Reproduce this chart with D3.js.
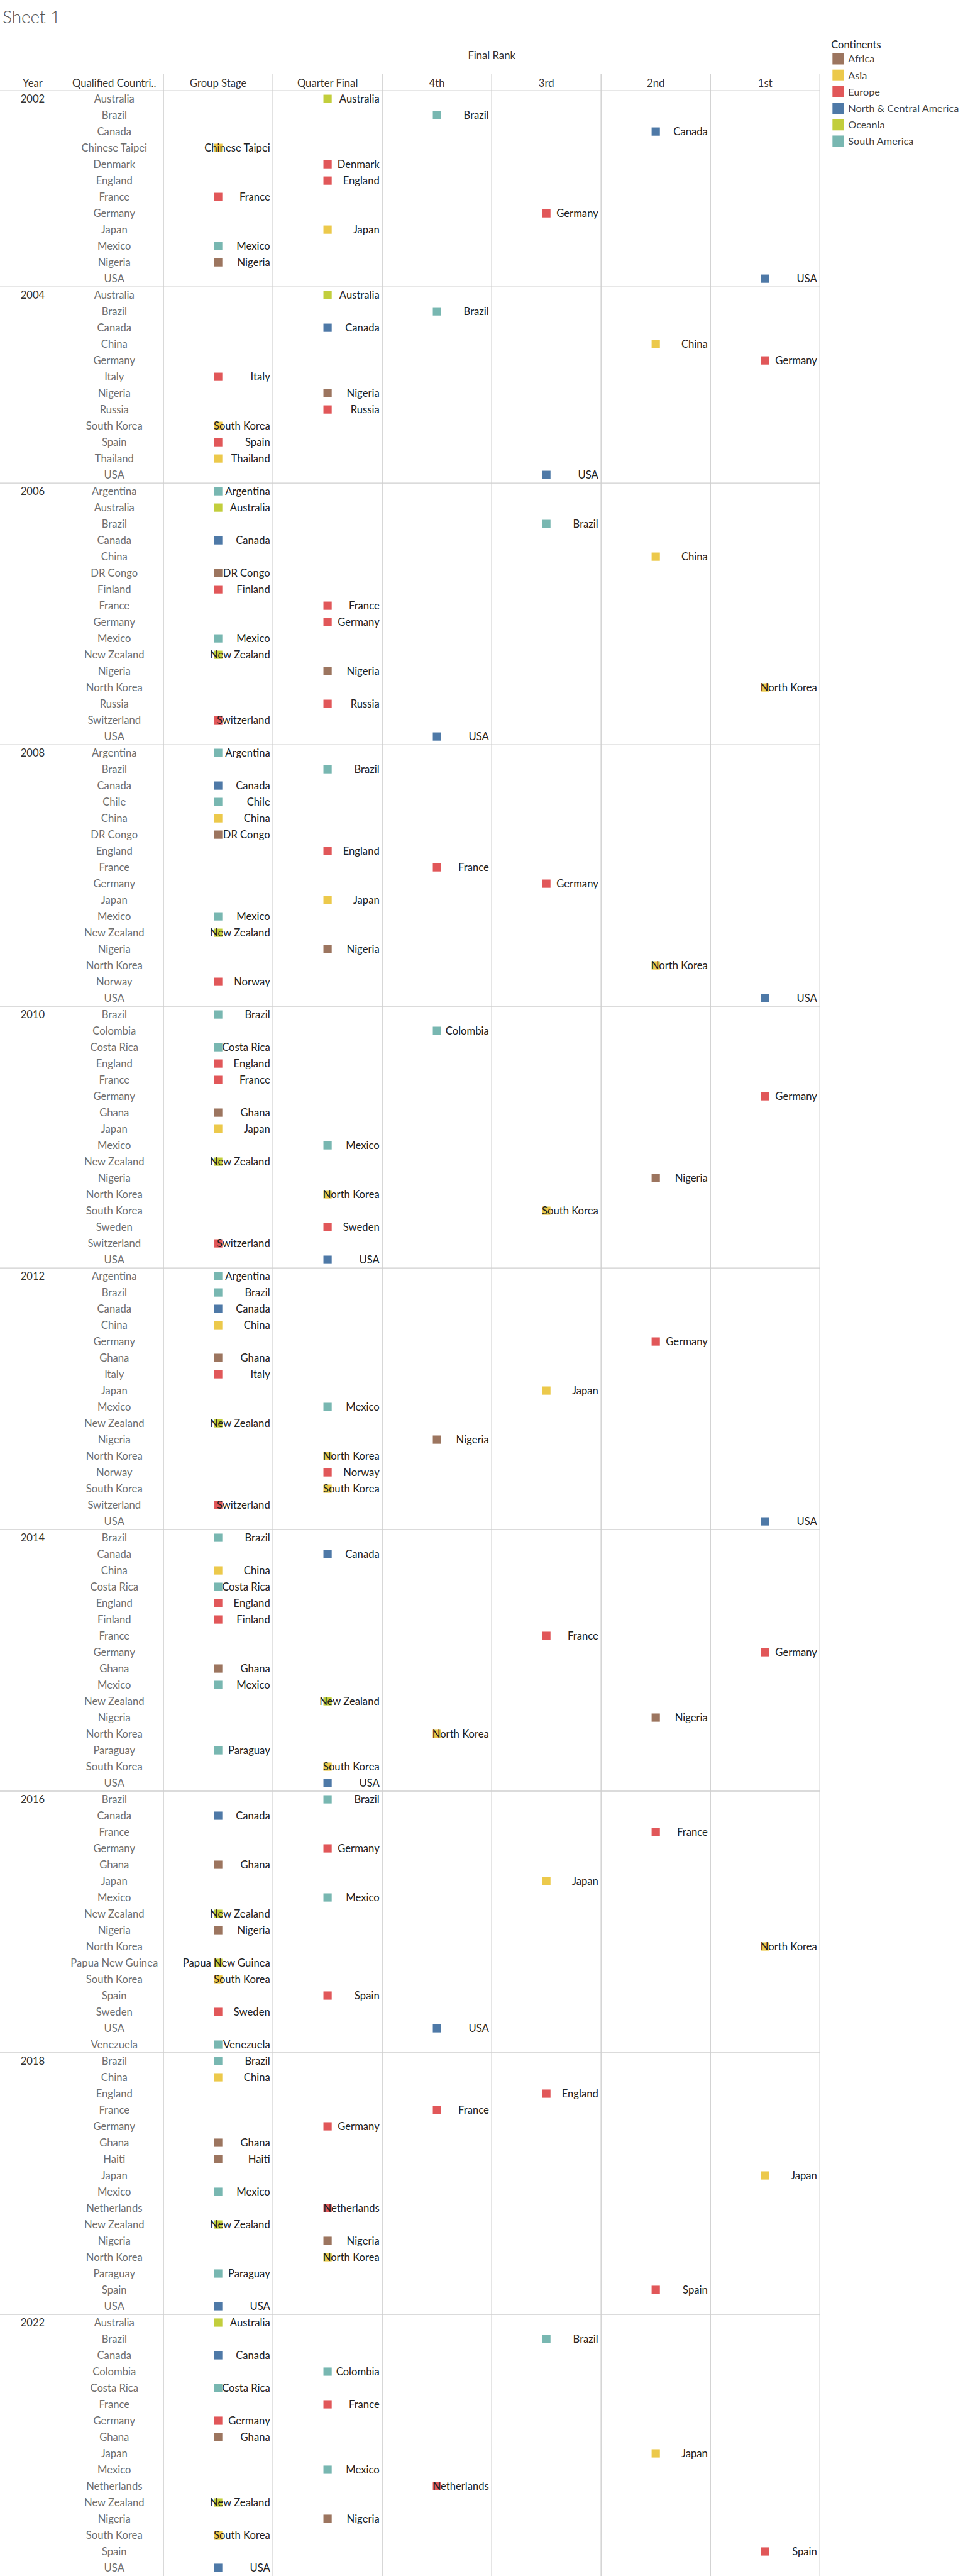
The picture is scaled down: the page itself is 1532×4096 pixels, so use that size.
<!DOCTYPE html>
<html>
<head>
<meta charset="utf-8">
<script src="https://cdn.jsdelivr.net/npm/d3@7"></script>
<style>
  html, body { margin: 0; padding: 0; background: #fff; }
  svg { display: block; }
  text { font-family: Lato, "Open Sans", sans-serif; }
</style>
</head>
<body>
<svg id="chart" width="1532" height="4096"></svg>
<script>
// ---------- data ----------
const stages = ["Group Stage", "Quarter Final", "4th", "3rd", "2nd", "1st"];
const stageCodes = ["GS", "QF", "4th", "3rd", "2nd", "1st"];
const continents = ["Africa", "Asia", "Europe", "North & Central America", "Oceania", "South America"];
const continentColors = ["#9c755f", "#ecc94b", "#e15759", "#4e79a7", "#c2ce3c", "#78b7b1"];

const africa = ["Nigeria", "DR Congo", "Ghana", "Haiti"];
const asia = ["Chinese Taipei", "Japan", "China", "South Korea", "Thailand", "North Korea"];
const europe = ["Denmark", "England", "France", "Germany", "Italy", "Russia", "Spain", "Finland",
  "Switzerland", "Norway", "Sweden", "Netherlands"];
const northCentralAmerica = ["Canada", "USA"];
const oceania = ["Australia", "New Zealand", "Papua New Guinea"];
const southAmerica = ["Brazil", "Mexico", "Argentina", "Chile", "Colombia", "Costa Rica", "Paraguay", "Venezuela"];

const years = ["2002", "2004", "2006", "2008", "2010", "2012", "2014", "2016", "2018", "2022"];

const results2002 = [["Australia","QF"],["Brazil","4th"],["Canada","2nd"],["Chinese Taipei","GS"],["Denmark","QF"],
  ["England","QF"],["France","GS"],["Germany","3rd"],["Japan","QF"],["Mexico","GS"],["Nigeria","GS"],["USA","1st"]];
const results2004 = [["Australia","QF"],["Brazil","4th"],["Canada","QF"],["China","2nd"],["Germany","1st"],
  ["Italy","GS"],["Nigeria","QF"],["Russia","QF"],["South Korea","GS"],["Spain","GS"],["Thailand","GS"],["USA","3rd"]];
const results2006 = [["Argentina","GS"],["Australia","GS"],["Brazil","3rd"],["Canada","GS"],["China","2nd"],
  ["DR Congo","GS"],["Finland","GS"],["France","QF"],["Germany","QF"],["Mexico","GS"],["New Zealand","GS"],
  ["Nigeria","QF"],["North Korea","1st"],["Russia","QF"],["Switzerland","GS"],["USA","4th"]];
const results2008 = [["Argentina","GS"],["Brazil","QF"],["Canada","GS"],["Chile","GS"],["China","GS"],
  ["DR Congo","GS"],["England","QF"],["France","4th"],["Germany","3rd"],["Japan","QF"],["Mexico","GS"],
  ["New Zealand","GS"],["Nigeria","QF"],["North Korea","2nd"],["Norway","GS"],["USA","1st"]];
const results2010 = [["Brazil","GS"],["Colombia","4th"],["Costa Rica","GS"],["England","GS"],["France","GS"],
  ["Germany","1st"],["Ghana","GS"],["Japan","GS"],["Mexico","QF"],["New Zealand","GS"],["Nigeria","2nd"],
  ["North Korea","QF"],["South Korea","3rd"],["Sweden","QF"],["Switzerland","GS"],["USA","QF"]];
const results2012 = [["Argentina","GS"],["Brazil","GS"],["Canada","GS"],["China","GS"],["Germany","2nd"],
  ["Ghana","GS"],["Italy","GS"],["Japan","3rd"],["Mexico","QF"],["New Zealand","GS"],["Nigeria","4th"],
  ["North Korea","QF"],["Norway","QF"],["South Korea","QF"],["Switzerland","GS"],["USA","1st"]];
const results2014 = [["Brazil","GS"],["Canada","QF"],["China","GS"],["Costa Rica","GS"],["England","GS"],
  ["Finland","GS"],["France","3rd"],["Germany","1st"],["Ghana","GS"],["Mexico","GS"],["New Zealand","QF"],
  ["Nigeria","2nd"],["North Korea","4th"],["Paraguay","GS"],["South Korea","QF"],["USA","QF"]];
const results2016 = [["Brazil","QF"],["Canada","GS"],["France","2nd"],["Germany","QF"],["Ghana","GS"],
  ["Japan","3rd"],["Mexico","QF"],["New Zealand","GS"],["Nigeria","GS"],["North Korea","1st"],
  ["Papua New Guinea","GS"],["South Korea","GS"],["Spain","QF"],["Sweden","GS"],["USA","4th"],["Venezuela","GS"]];
const results2018 = [["Brazil","GS"],["China","GS"],["England","3rd"],["France","4th"],["Germany","QF"],
  ["Ghana","GS"],["Haiti","GS"],["Japan","1st"],["Mexico","GS"],["Netherlands","QF"],["New Zealand","GS"],
  ["Nigeria","QF"],["North Korea","QF"],["Paraguay","GS"],["Spain","2nd"],["USA","GS"]];
const results2022 = [["Australia","GS"],["Brazil","3rd"],["Canada","GS"],["Colombia","QF"],["Costa Rica","GS"],
  ["France","QF"],["Germany","GS"],["Ghana","GS"],["Japan","2nd"],["Mexico","QF"],["Netherlands","4th"],
  ["New Zealand","GS"],["Nigeria","QF"],["South Korea","GS"],["Spain","1st"],["USA","GS"]];

const resultsByYear = [results2002, results2004, results2006, results2008, results2010,
  results2012, results2014, results2016, results2018, results2022];

// ---------- build rows ----------
const continentOf = new Map();
[[africa,"Africa"],[asia,"Asia"],[europe,"Europe"],[northCentralAmerica,"North & Central America"],
 [oceania,"Oceania"],[southAmerica,"South America"]].forEach(([list, c]) => list.forEach(n => continentOf.set(n, c)));

const rows = [];
years.forEach((yr, yi) => {
  resultsByYear[yi].forEach(([country, code], i) => {
    rows.push({
      key: yr + "|" + country,
      year: yr,
      first: i === 0,
      country,
      stage: stages[stageCodes.indexOf(code)],
      continent: continentOf.get(country)
    });
  });
});

// ---------- layout ----------
const K = 0.693;
const svg = d3.select("#chart");

// font calibration helper
function fitSize(str, targetW, weight) {
  const t = svg.append("text").attr("font-size", 100).attr("font-weight", weight || 400).text(str);
  const w = t.node().getComputedTextLength();
  t.remove();
  return 100 * targetW / w;
}
const fsBody = fitSize("Chinese Taipei", 151 * K);
const fsHead = fitSize("Group Stage", 130.5 * K);
const fsLegend = fitSize("North & Central America", 254 * K);
const fsLegendTitle = fitSize("Continents", 114.7 * K);
const fsTitle = fitSize("Sheet 1", 133 * K, 300);

const tableLeft = 0;
const colStart = 375.3 * K;
const colEnd = 1882 * K;
const headTop = 170 * K;
const headLine = 208 * K;
const bottom = 4096;

const x = d3.scaleBand().domain(stages).range([colStart, colEnd]).paddingInner(0).paddingOuter(0);
const y = d3.scaleBand().domain(rows.map(r => r.key)).range([headLine, bottom]);
const color = d3.scaleOrdinal().domain(continents).range(continentColors);

const lineColor = "#cfcfcf";
const sq = 19 * K;

// title
svg.append("text").attr("x", 6 * K).attr("y", 53.6 * K)
  .attr("font-size", fsTitle).attr("font-weight", 300).attr("fill", "#555").text("Sheet 1");

// Final Rank
svg.append("text").attr("x", (colStart + colEnd) / 2).attr("y", 136 * K)
  .attr("text-anchor", "middle").attr("font-size", fsHead).attr("fill", "#333").text("Final Rank");

// column headers
const headY = 199.3 * K;
svg.append("text").attr("x", 75 * K).attr("y", headY).attr("text-anchor", "middle")
  .attr("font-size", fsHead).attr("fill", "#333").text("Year");
svg.append("text").attr("x", 262.3 * K).attr("y", headY).attr("text-anchor", "middle")
  .attr("font-size", fsHead).attr("fill", "#333").text("Qualified Countri..");
svg.append("g").selectAll("text").data(stages).join("text")
  .attr("x", d => x(d) + x.bandwidth() / 2).attr("y", headY).attr("text-anchor", "middle")
  .attr("font-size", fsHead).attr("fill", "#333").text(d => d);

// grid lines
const grid = svg.append("g").attr("stroke", lineColor).attr("stroke-width", 1.4);
// vertical lines
const vx = [colStart].concat(stages.map(s => x(s) + x.bandwidth()));
grid.selectAll("line.v").data(vx).join("line").attr("class", "v")
  .attr("x1", d => d).attr("x2", d => d).attr("y1", headTop).attr("y2", bottom);
// header horizontal line
grid.append("line").attr("x1", tableLeft).attr("x2", colEnd).attr("y1", headLine).attr("y2", headLine);
// year separators
const yearFirstRows = rows.filter(r => r.first).slice(1);
grid.selectAll("line.h").data(yearFirstRows).join("line").attr("class", "h")
  .attr("x1", tableLeft).attr("x2", colEnd)
  .attr("y1", d => y(d.key)).attr("y2", d => y(d.key));

const bh = y.bandwidth();
const capOff = fsBody * 0.36;

// year labels
svg.append("g").selectAll("text").data(rows.filter(r => r.first)).join("text")
  .attr("x", 75 * K).attr("y", d => y(d.key) + bh / 2 + capOff).attr("text-anchor", "middle")
  .attr("font-size", fsBody).attr("fill", "#333").text(d => d.year);

// country row labels
svg.append("g").selectAll("text").data(rows).join("text")
  .attr("x", 262.3 * K).attr("y", d => y(d.key) + bh / 2 + capOff).attr("text-anchor", "middle")
  .attr("font-size", fsBody).attr("fill", "#6f6f6f").text(d => d.country);

// marks
svg.append("g").selectAll("rect").data(rows).join("rect")
  .attr("x", d => x(d.stage) + x.bandwidth() / 2 - sq / 2)
  .attr("y", d => y(d.key) + bh / 2 - sq / 2)
  .attr("width", sq).attr("height", sq)
  .attr("fill", d => color(d.continent));

// mark labels
svg.append("g").selectAll("text").data(rows).join("text")
  .attr("x", d => x(d.stage) + x.bandwidth() - 6.3 * K)
  .attr("y", d => y(d.key) + bh / 2 + capOff).attr("text-anchor", "end")
  .attr("font-size", fsBody).attr("fill", "#222").text(d => d.country);

// legend
const lg = svg.append("g");
lg.append("text").attr("x", 1908 * K).attr("y", 111 * K).attr("font-size", fsLegendTitle)
  .attr("font-weight", 400).attr("fill", "#222").text("Continents");
const ly = d3.scaleBand().domain(continents).range([116 * K, (116 + 6 * 37.8) * K]);
const items = lg.selectAll("g.item").data(continents).join("g").attr("class", "item");
items.append("rect").attr("x", 1911 * K).attr("y", d => ly(d) + ly.bandwidth() / 2 - 13 * K)
  .attr("width", 26 * K).attr("height", 26 * K).attr("fill", d => color(d));
items.append("text").attr("x", 1947 * K).attr("y", d => ly(d) + ly.bandwidth() / 2 + fsLegend * 0.36)
  .attr("font-size", fsLegend).attr("fill", "#444").text(d => d);
</script>
</body>
</html>
